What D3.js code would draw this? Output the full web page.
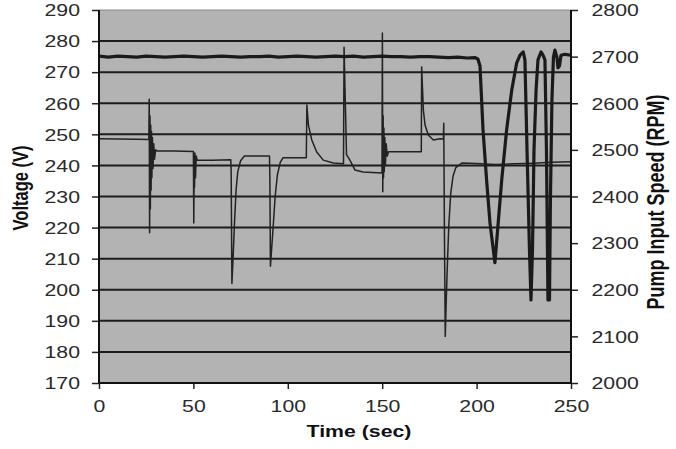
<!DOCTYPE html>
<html>
<head>
<meta charset="utf-8">
<script src="https://cdn.jsdelivr.net/npm/d3@7"></script>
<style>
  html, body { margin: 0; padding: 0; background: #fff; }
  svg { display: block; }
  text { font-family: "Liberation Sans", Arial, sans-serif; }
</style>
</head>
<body>
<svg id="chart" width="676" height="449"></svg>
<script>
// ---------- data ----------
const timeTicks = [0, 50, 100, 150, 200, 250];
const voltTicks = [170, 180, 190, 200, 210, 220, 230, 240, 250, 260, 270, 280, 290];
const rpmTicks = [2000, 2100, 2200, 2300, 2400, 2500, 2600, 2700, 2800];

const voltTime = [
  0, 10, 20, 26.4, 26.6, 26.8, 27.0, 27.2, 27.4, 27.6, 27.8, 28.0, 28.3, 28.6, 29.0, 29.4, 30.0, 31, 40,
  50.0, 50.2, 50.4, 50.6, 50.8, 51.1, 51.5, 52, 60, 69.8,
  70.0, 70.4, 71.0, 71.8, 72.6, 73.5, 75, 77, 85, 90.3,
  90.5, 90.8, 92, 93.3, 94.5, 96, 97.5, 109.8,
  110.1, 110.9, 112.7, 115.3, 118.8, 124.1, 129.5,
  129.8, 131.1, 132.9, 135.6, 139.8, 149.9,
  150.1, 150.3, 150.5, 150.7, 150.9, 151.1, 151.4, 151.7, 152.1, 152.7, 153.3, 160, 170.7,
  170.9, 171.8, 172.7, 174.4, 177.1, 180.6, 182.4,
  182.6, 183.0, 183.4, 183.8, 184.4, 185.3, 186.3, 187.5, 189.0, 192.3, 200, 210, 220, 230, 240, 250
];
const voltValues = [
  248.6, 248.5, 248.4, 248.3, 261.3, 218.3, 256, 226, 253, 232, 251, 236, 249, 239, 247, 242, 245, 244.6, 244.6,
  244.5, 221.5, 240, 233, 244, 236, 243, 241.7, 241.7, 241.8,
  238, 202, 210, 222, 232, 238, 241.5, 243, 243, 243,
  236, 207.6, 218, 230, 237, 241, 242.5, 242.5,
  259.4, 253, 248.2, 244.3, 241.7, 240.8, 240.5,
  278, 243.5, 241.7, 238.5, 237.9, 237.6,
  282.6, 231.5, 256, 236, 252, 238, 249, 240, 247, 243, 244.4, 244.4, 244.4,
  271.7, 257.8, 253, 249.8, 248.2, 248.6, 248.5,
  253.6, 215, 185, 194, 206, 221, 231, 236.5, 239.3, 240.8, 240.6, 240.3, 240.5, 240.7, 241, 241.2
];

const pumpTime = [
  0, 5, 10, 15, 20, 25, 30, 35, 40, 45, 50, 55, 60, 65, 70, 75, 80, 85, 90, 95, 100,
  105, 110, 115, 120, 125, 130, 135, 140, 145, 150, 155, 160, 165, 170, 175, 180, 185, 190, 195, 199,
  200.7, 201.8, 203.4, 205.3, 207.1, 209.7, 213.3, 215.9, 218.6, 221.2, 223.0, 224.7,
  225.6, 226.7, 228.0, 228.8, 229.6, 230.4, 231.5, 232.5, 234.1, 235.2, 236.2,
  237.0, 237.8, 238.6, 239.1, 239.9, 240.7, 241.5, 242.6, 243.1, 243.9, 244.7, 246.8, 250
];
const pumpValues = [
  2701, 2699, 2701, 2700, 2699, 2701, 2700, 2699, 2700, 2701, 2700, 2699, 2700, 2701, 2700, 2699, 2700, 2700, 2701, 2699, 2700,
  2701, 2700, 2699, 2700, 2701, 2700, 2701, 2699, 2700, 2701, 2700, 2700, 2699, 2700, 2700, 2699, 2698, 2699, 2697, 2698,
  2695, 2680, 2543, 2435, 2343, 2258, 2435, 2543, 2628, 2686, 2703, 2710,
  2693, 2500, 2285, 2178, 2285, 2500, 2628, 2693, 2710, 2703, 2693,
  2500, 2178, 2178, 2392, 2607, 2699, 2714, 2697, 2676, 2680, 2703, 2705, 2703
];

// ---------- layout ----------
const svg = d3.select("#chart");
const L = 99, R = 571, T = 10, B = 383;
const SX = 1.33; // horizontal stretch of the original picture's text

const x = d3.scaleLinear().domain([0, 250]).range([L, R]);
const yV = d3.scaleLinear().domain([170, 290]).range([B, T]);
const yR = d3.scaleLinear().domain([2000, 2800]).range([B, T]);

// plot background
svg.append("rect").attr("x", L).attr("y", T).attr("width", R - L).attr("height", B - T)
  .attr("fill", "#b3b3b3");

// top border (light)
svg.append("line").attr("x1", L).attr("x2", R).attr("y1", T).attr("y2", T)
  .attr("stroke", "#8a8a8a").attr("stroke-width", 1);

// gridlines
svg.append("g").selectAll("line")
  .data(voltTicks.filter(v => v > 170 && v < 290))
  .join("line")
  .attr("x1", L).attr("x2", R)
  .attr("y1", d => yV(d)).attr("y2", d => yV(d))
  .attr("stroke", "#1c1c1c").attr("stroke-width", 2);

// series
const voltData = voltTime.map((t, i) => [t, voltValues[i]]);
const pumpData = pumpTime.map((t, i) => [t, pumpValues[i]]);

svg.append("path").datum(voltData)
  .attr("fill", "none").attr("stroke", "#222").attr("stroke-width", 1.5)
  .attr("stroke-linejoin", "round")
  .attr("d", d3.line().x(d => x(d[0])).y(d => yV(d[1])));

svg.append("path").datum(pumpData)
  .attr("fill", "none").attr("stroke", "#1a1a1a").attr("stroke-width", 3.2)
  .attr("stroke-linejoin", "round")
  .attr("d", d3.line().x(d => x(d[0])).y(d => yR(d[1])));

// axes
const labelColor = "#2a2a2a";
const gL = svg.append("g").attr("transform", `translate(${L},0)`)
  .call(d3.axisLeft(yV).tickValues(voltTicks).tickFormat(d3.format("d")).tickSize(7).tickSizeOuter(0));
gL.select(".domain").remove();
gL.selectAll("line").attr("stroke", "#222").attr("stroke-width", 1.5);
gL.selectAll("text")
  .attr("x", -19 / SX).attr("dy", "0.36em")
  .attr("transform", `scale(${SX},1)`)
  .attr("font-size", 16).attr("fill", labelColor).attr("font-family", "Liberation Sans, Arial, sans-serif");

const gR = svg.append("g").attr("transform", `translate(${R},0)`)
  .call(d3.axisRight(yR).tickValues(rpmTicks).tickFormat(d3.format("d")).tickSize(7).tickSizeOuter(0));
gR.select(".domain").remove();
gR.selectAll("line").attr("stroke", "#222").attr("stroke-width", 1.5);
gR.selectAll("text")
  .attr("x", 20.5 / SX).attr("dy", "0.36em")
  .attr("transform", `scale(${SX},1)`)
  .attr("font-size", 16).attr("fill", labelColor).attr("font-family", "Liberation Sans, Arial, sans-serif");

const gB = svg.append("g").attr("transform", `translate(0,${B})`)
  .call(d3.axisBottom(x).tickValues(timeTicks).tickFormat(d3.format("d")).tickSize(6).tickSizeOuter(0));
gB.select(".domain").remove();
gB.selectAll("line").attr("stroke", "#222").attr("stroke-width", 1.5);
gB.selectAll("text")
  .attr("y", 29).attr("dy", 0)
  .attr("transform", `scale(${SX},1)`)
  .attr("font-size", 16).attr("fill", labelColor).attr("font-family", "Liberation Sans, Arial, sans-serif");

// axis lines
svg.append("line").attr("x1", L).attr("x2", L).attr("y1", T).attr("y2", B + 1)
  .attr("stroke", "#111").attr("stroke-width", 2);
svg.append("line").attr("x1", R).attr("x2", R).attr("y1", T).attr("y2", B + 1)
  .attr("stroke", "#111").attr("stroke-width", 2);
svg.append("line").attr("x1", L - 1).attr("x2", R + 1).attr("y1", B).attr("y2", B)
  .attr("stroke", "#111").attr("stroke-width", 2);

// titles
svg.append("text")
  .attr("transform", `translate(359,437) scale(${SX},1)`)
  .attr("text-anchor", "middle").attr("font-weight", "bold").attr("font-size", 16)
  .attr("fill", "#111").text("Time (sec)");

svg.append("text")
  .attr("transform", `translate(28,188) scale(${SX},1) rotate(-90)`)
  .attr("text-anchor", "middle").attr("font-weight", "bold").attr("font-size", 16.5)
  .attr("fill", "#111").text("Voltage (V)");

svg.append("text")
  .attr("transform", `translate(664,202) scale(${SX},1) rotate(-90)`)
  .attr("text-anchor", "middle").attr("font-weight", "bold").attr("font-size", 18)
  .attr("fill", "#111").text("Pump Input Speed (RPM)");
</script>
</body>
</html>
